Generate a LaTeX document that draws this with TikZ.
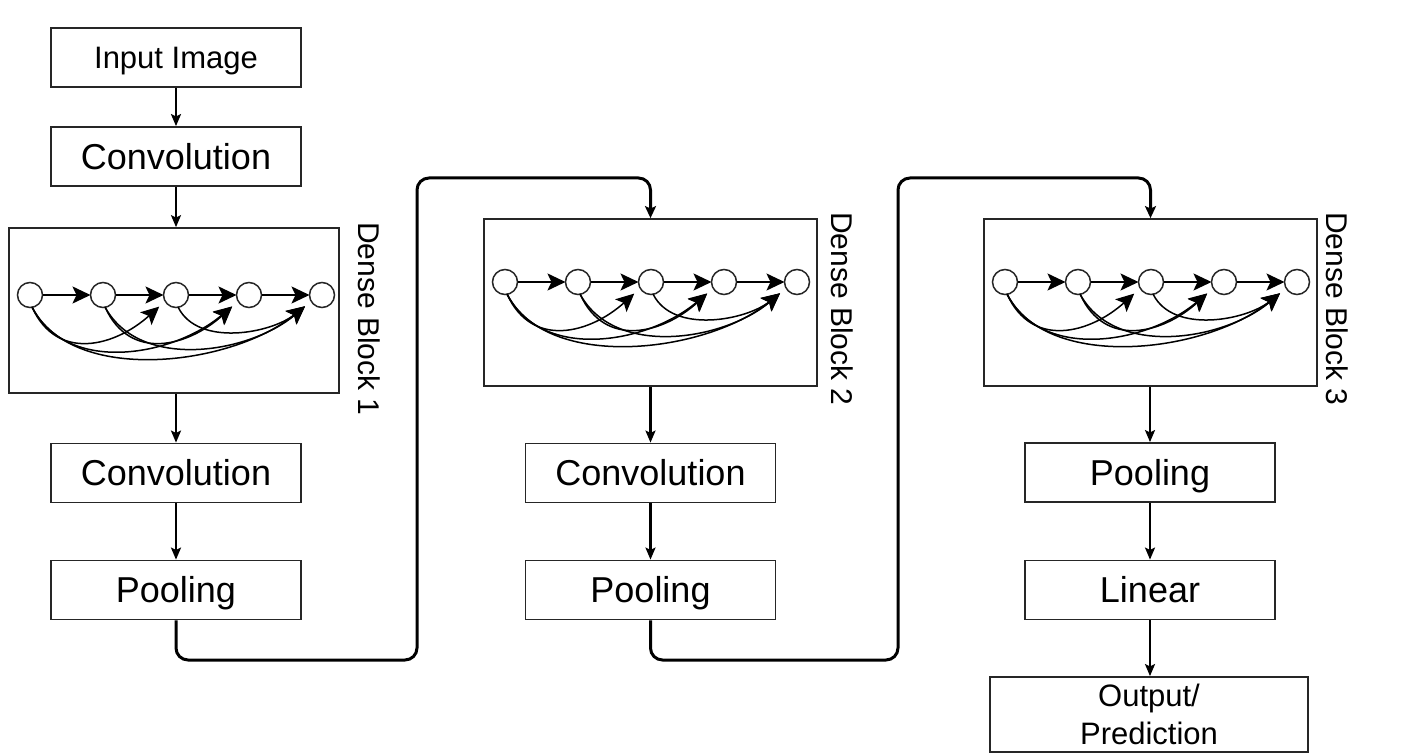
\documentclass[tikz,border=0pt]{standalone}
\usepackage{fontspec}
\setmainfont{Liberation Sans}
\usetikzlibrary{arrows.meta}
\newcommand\denseinner[4]{%
 \begin{scope}[shift={(#2,-#3)}]
  \foreach \i/\xx in {0/21,1/94,2/167,3/240,4/313}{\node[dcirc] (#1\i) at (\xx,-#4) {};}
  \foreach \i/\j in {0/1,1/2,2/3,3/4}{\draw[darr] (#1\i) -- (#1\j);}
  \draw[carr] (#10.-80) .. controls +(25,-55) and +(-50,-45) .. (#12.210);
  \draw[carr] (#10.-80) .. controls +(35,-68) and +(-65,-55) .. (#13.210);
  \draw[carr] (#10.-80) .. controls +(40,-78) and +(-80,-65) .. (#14.210);
  \draw[carr] (#11.-80) .. controls +(25,-55) and +(-50,-45) .. (#13.210);
  \draw[carr] (#11.-80) .. controls +(35,-64) and +(-62,-52) .. (#14.210);
  \draw[carr] (#12.-80) .. controls +(20,-40) and +(-40,-32) .. (#14.210);
 \end{scope}}
\begin{document}
\begin{tikzpicture}[x=0.5pt,y=0.5pt,
  box/.style={draw=black!85,line width=0.9pt,minimum width=125pt,minimum height=29.5pt,
    inner sep=0pt,font=\fontsize{18}{21}\selectfont,text height=12.9pt,text depth=0pt},
  smallbox/.style={box,font=\fontsize{15.5}{19}\selectfont,text height=11.1pt},
  dbox/.style={draw=black!85,line width=0.85pt,inner sep=0pt},
  dlabel/.style={rotate=-90,inner sep=0pt,font=\fontsize{15}{18}\selectfont},
  dcirc/.style={circle,draw=black!85,line width=0.75pt,minimum size=12.5pt,inner sep=0pt,outer sep=0pt},
  darr/.style={line width=1pt,-{Stealth[length=9pt,width=8.5pt,inset=2pt]}},
  carr/.style={line width=0.75pt,shorten >=4pt,-{Stealth[length=9pt,width=8.5pt,inset=2pt]}},
  varr/.style={line width=1.1pt,-{Stealth[length=6pt,width=5pt,inset=1.2pt]}},
  longarr/.style={line width=1.5pt,rounded corners=6pt,-{Stealth[length=6pt,width=5.5pt,inset=1.2pt]}}]
\useasboundingbox (0,0) rectangle (1408,-754);
\fill[white] (0,0) rectangle (1408,-754);
% column 1
\node[smallbox] (inimg) at (176,-57.5) {Input Image};
\node[box] (conv1) at (176,-156.5) {Convolution};
\node[dbox,minimum width=165pt,minimum height=82.5pt] (db1) at (174,-310.5) {};
\node[box] (conv2) at (176,-473) {Convolution};
\node[box] (pool1) at (176,-590) {Pooling};
\node[dlabel] (lab1) at (369,-319) {Dense Block 1};
\denseinner{a}{9}{228}{67}
% column 2
\node[dbox,minimum width=166.5pt,minimum height=83.5pt] (db2) at (650.5,-302.5) {};
\node[box] (conv3) at (650.5,-473) {Convolution};
\node[box] (pool2) at (650.5,-590) {Pooling};
\node[dlabel] (lab2) at (842,-309) {Dense Block 2};
\denseinner{b}{484}{219}{63}
% column 3
\node[dbox,minimum width=166.5pt,minimum height=83.5pt] (db3) at (1150.5,-302.5) {};
\node[box] (pool3) at (1150,-472.5) {Pooling};
\node[box] (lin) at (1150,-590) {Linear};
\node[draw=black!85,line width=0.9pt,minimum width=159pt,minimum height=37.5pt,inner sep=0pt,
  align=center,font=\fontsize{15.5}{19}\selectfont] (outp) at (1149,-714.5) {Output/\\Prediction};
\node[dlabel] (lab3) at (1337,-309) {Dense Block 3};
\denseinner{c}{984}{219}{63}
% vertical arrows
\draw[varr] (inimg) -- (conv1);
\draw[varr] (conv1) -- (conv1 |- db1.north);
\draw[varr] (db1.south -| conv2) -- (conv2);
\draw[varr] (conv2) -- (pool1);
\draw[varr] (db2.south -| conv3) -- (conv3);
\draw[varr] (conv3) -- (pool2);
\draw[varr] (db3.south -| pool3) -- (pool3);
\draw[varr] (pool3) -- (lin);
\draw[varr] (lin) -- (lin |- outp.north);
% long connectors
\coordinate (k1) at (417,-660);
\coordinate (k2) at (417,-178);
\coordinate (k3) at (898,-660);
\coordinate (k4) at (898,-178);
\draw[longarr] (pool1.south) |- (k1) -- (k2) -| (db2.north);
\draw[longarr] (pool2.south) |- (k3) -- (k4) -| (db3.north);
\end{tikzpicture}
\end{document}
